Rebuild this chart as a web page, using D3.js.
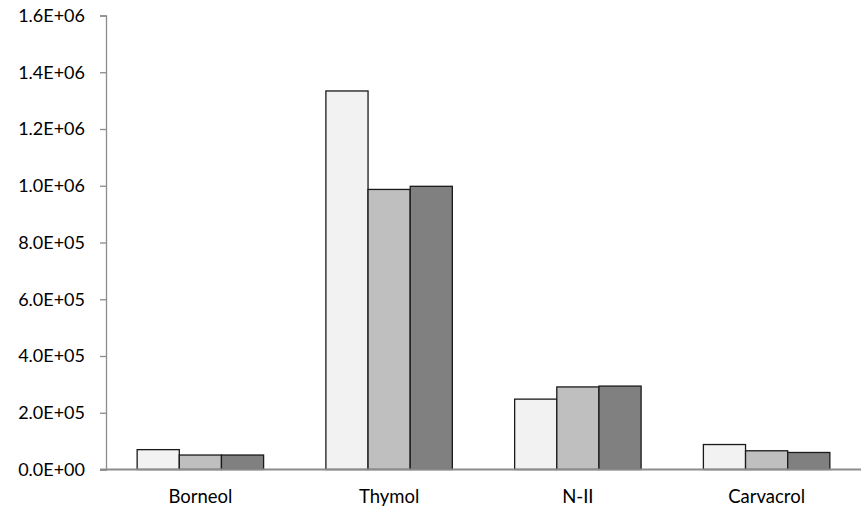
<!DOCTYPE html>
<html>
<head>
<meta charset="utf-8">
<script src="https://cdn.jsdelivr.net/npm/d3@7"></script>
<style>
  body { margin: 0; background: #fff; }
  text { font-family: Lato, 'Open Sans', sans-serif; fill: #000; }
</style>
</head>
<body>
<div id="chart"></div>
<script>
// data
var categories = ['Borneol', 'Thymol', 'N-II', 'Carvacrol'];
var series1 = [70000, 1334000, 248000, 88000];
var series2 = [51000, 987000, 291000, 66000];
var series3 = [51000, 998000, 294000, 60000];
var yTicks = [0, 2e5, 4e5, 6e5, 8e5, 1e6, 1.2e6, 1.4e6, 1.6e6];
var fills = ['#f2f2f2', '#bfbfbf', '#808080'];

var width = 867, height = 513;
// note: "top" is window.top, so use other names
var plotLeft = 106, plotRight = 861, plotTop = 15.5, plotBottom = 469.5;

var svg = d3.select('#chart').append('svg')
    .attr('width', width).attr('height', height);

var x = d3.scaleBand().domain(categories).range([plotLeft, plotRight]).paddingInner(0.33).paddingOuter(0.165);
var y = d3.scaleLinear().domain([0, 1.6e6]).range([plotBottom, plotTop]);

var allSeries = [series1, series2, series3];
var bw = x.bandwidth() / 3;

// bars
allSeries.forEach(function(vals, s) {
    svg.append('g').selectAll('rect')
        .data(vals).enter().append('rect')
        .attr('x', function(d, i) { return x(categories[i]) + s * bw; })
        .attr('y', function(d) { return y(d); })
        .attr('width', bw)
        .attr('height', function(d) { return plotBottom - y(d); })
        .attr('fill', fills[s])
        .attr('stroke', '#1a1a1a')
        .attr('stroke-width', 1.3);
});

// y axis
var yAxis = svg.append('g')
    .attr('transform', 'translate(' + plotLeft + ',0)')
    .call(d3.axisLeft(y).tickValues(yTicks).tickSize(6).tickPadding(15)
        .tickFormat(function(d) { return d3.format('.1e')(d).replace(/e([+-])(\d)$/, 'E$10$2').replace('e', 'E'); }));
yAxis.select('.domain').attr('stroke', '#8c8c8c').attr('stroke-width', 1.3);
yAxis.selectAll('.tick line').attr('stroke', '#8c8c8c').attr('stroke-width', 1.3);
yAxis.selectAll('text').attr('font-size', 18).style('font-family', 'Lato, sans-serif');

// x axis baseline
svg.append('line')
    .attr('x1', plotLeft - 6).attr('x2', plotRight)
    .attr('y1', plotBottom).attr('y2', plotBottom)
    .attr('stroke', '#8c8c8c').attr('stroke-width', 2);

// category labels
svg.append('g').selectAll('text')
    .data(categories).enter().append('text')
    .attr('x', function(d) { return x(d) + x.bandwidth() / 2; })
    .attr('y', 503)
    .attr('text-anchor', 'middle')
    .attr('font-size', 18.5)
    .text(function(d) { return d; });
</script>
</body>
</html>
